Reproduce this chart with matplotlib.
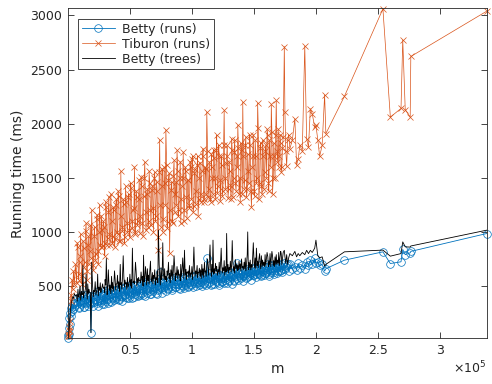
import matplotlib
matplotlib.use("Agg")
import matplotlib.pyplot as plt
import numpy as np

# m values (thousands of edges), shared by all three series
m_k = [0.2, 0.4, 0.6, 0.9, 1.2, 1.5, 1.9, 2.3, 2.8, 3.3, 3.9, 4.5, 5.2, 6.0,
       7.0, 8.1, 9.0, 9.8, 11.0, 12.1, 13.0, 14.2, 15.1, 16.0,
       17.0, 18.1, 18.6, 19.9, 21.0, 22.0, 23.1, 24.0, 25.0, 26.1,
       27.0, 28.0, 29.2, 30.0, 31.0, 32.1, 33.0, 34.0, 35.2, 36.0,
       37.0, 38.1, 39.0, 40.0, 41.0, 42.2, 43.0, 44.0, 45.1, 46.0,
       47.0, 48.0, 49.1, 50.0, 51.0, 52.0, 53.2, 54.0, 55.0, 56.1,
       57.0, 58.0, 59.0, 60.1, 61.0, 62.0, 63.0, 64.1, 65.0, 66.0,
       67.0, 68.1, 69.0, 70.0, 71.0, 72.0, 73.0, 74.0, 75.1, 76.0,
       77.0, 78.0, 79.0, 80.0, 81.1, 82.0, 83.0, 84.0, 85.0, 86.2,
       87.0, 88.0, 89.0, 90.1, 91.0, 92.0, 93.0, 94.0, 95.2, 96.0,
       97.0, 98.0, 99.1, 100.0, 101.0, 102.0, 103.0, 104.2, 105.0, 106.0,
       107.0, 108.0, 109.0, 110.1, 111.0, 112.0, 113.0, 114.0, 115.2, 116.0,
       117.0, 118.0, 119.0, 120.0, 121.1, 122.0, 123.0, 124.0, 125.0, 126.0,
       127.0, 128.0, 129.1, 130.0, 131.0, 132.0, 133.0, 134.0, 135.0, 136.2,
       137.0, 138.0, 139.0, 140.0, 141.0, 142.1, 143.0, 144.0, 145.0, 146.0,
       147.0, 148.0, 149.0, 150.1, 151.0, 152.0, 153.0, 154.0, 155.0, 156.0,
       157.0, 158.0, 159.0, 160.0, 161.2, 162.0, 163.0, 164.0, 165.0, 166.0,
       167.0, 168.0, 169.0, 170.0, 171.0, 172.0, 173.0, 174.5, 175.0, 176.4,
       178.0, 179.0, 181.0, 183.0, 184.4, 185.7, 187.0, 189.0, 191.0, 192.5,
       194.0, 195.5, 197.0, 199.0, 200.0, 201.5, 203.0, 205.0, 207.0, 208.0,
       223.0, 254.0, 260.0, 268.6, 270.0, 272.0, 276.0, 276.5, 337.6]

# Betty (runs), ms
betty_runs = [20, 45, 110, 60, 200, 150, 250, 220, 300, 265, 330, 290, 345, 315,
              330, 390, 310, 360, 415, 340, 305, 380, 350, 405,
              370, 330, 69, 400, 350, 430, 360, 320, 390, 440,
              350, 410, 330, 450, 380, 345, 420, 360, 465, 390,
              370, 440, 400, 475, 380, 450, 410, 365, 485, 420,
              400, 460, 385, 505, 430, 470, 400, 500, 450, 420,
              470, 420, 525, 440, 490, 410, 535, 460, 500, 450,
              430, 520, 470, 545, 440, 500, 460, 631, 480, 530,
              470, 540, 450, 510, 480, 555, 500, 460, 570, 520,
              490, 555, 520, 470, 585, 510, 545, 480, 595, 530,
              500, 570, 520, 590, 490, 550, 600, 530, 575, 510,
              540, 500, 580, 520, 600, 755, 530, 570, 510, 590,
              560, 520, 610, 540, 580, 510, 600, 550, 590, 530,
              570, 530, 610, 550, 620, 520, 590, 560, 630, 712,
              560, 620, 580, 640, 550, 600, 650, 570, 630, 590,
              620, 560, 660, 600, 640, 580, 670, 610, 650, 590,
              640, 600, 680, 620, 660, 590, 690, 630, 670, 610,
              650, 690, 620, 700, 640, 680, 630, 710, 660, 690,
              640, 700, 660, 680, 650, 710, 670, 690, 660, 720,
              690, 740, 700, 755, 710, 720, 690, 700, 638, 660,
              739, 816, 708, 724, 838, 790, 807, 820, 985]

# Tiburon (runs), ms
tiburon_runs = [35, 60, 95, 40, 120, 80, 180, 420, 360, 560, 470, 640, 520, 700,
                530, 860, 610, 780, 520, 920, 680, 1010, 640, 880,
                700, 1060, 760, 690, 960, 740, 1120, 820, 1000, 880,
                1150, 870, 1050, 900, 1230, 940, 1320, 880, 1100, 960,
                1200, 930, 1300, 980, 1330, 920, 1150, 1010, 1260, 950,
                1280, 1000, 1350, 950, 1410, 1040, 1220, 980, 1380, 1060,
                1300, 990, 1508, 1080, 1330, 1646, 1020, 1400, 1100, 1450,
                1060, 1420, 1000, 1554, 1150, 1380, 831, 1853, 1050, 1585,
                1120, 1450, 1945, 1040, 1480, 804, 1390, 1100, 1520, 1180,
                1460, 1754, 1150, 1500, 1080, 1420, 1738, 1200, 1560, 1130,
                1480, 1220, 1600, 1677, 1180, 1540, 1260, 1620, 1150, 1500,
                1280, 1560, 1769, 1300, 1580, 2108, 1320, 1650, 1280, 1600,
                1350, 1680, 1300, 1892, 1420, 1700, 1290, 1620, 1380, 2122,
                1400, 1700, 1310, 1650, 1430, 1862, 1320, 1740, 1450, 1700,
                1985, 1350, 1278, 1760, 2199, 1400, 1800, 1320, 1720, 1450,
                1800, 1232, 1700, 1380, 1850, 1450, 2190, 1300, 1780, 1420,
                1850, 1400, 1750, 1500, 1900, 1380, 1700, 2178, 1355, 1820,
                1500, 2215, 1650, 1601, 1900, 1550, 1780, 2713, 2107, 1607,
                1900, 1770, 1850, 2046, 1616, 1677, 1800, 1750, 2716, 1862,
                1785, 2139, 2093, 1969, 1985, 1850, 1699, 1800, 2266, 1908,
                2254, 3061, 2061, 2141, 2775, 2130, 2061, 2621, 3039]

# Betty (trees), ms
betty_trees = [30, 45, 70, 90, 130, 190, 260, 300, 340, 370, 400, 385, 430, 410,
               420, 470, 395, 500, 450, 690, 430, 480, 455, 520,
               470, 440, 69, 500, 460, 540, 450, 610, 490, 530,
               470, 520, 490, 560, 755, 480, 545, 510, 590, 530,
               500, 560, 520, 600, 540, 700, 530, 575, 590, 555,
               530, 580, 515, 610, 560, 850, 545, 590, 640, 570,
               580, 550, 630, 590, 785, 570, 615, 660, 600, 635,
               565, 625, 600, 650, 575, 640, 1016, 615, 670, 600,
               610, 660, 590, 640, 720, 615, 650, 690, 630, 660,
               620, 680, 650, 605, 700, 640, 665, 831, 655, 630,
               640, 690, 620, 680, 660, 710, 640, 690, 625, 665,
               650, 700, 660, 720, 640, 690, 675, 730, 650, 700,
               924, 660, 710, 680, 650, 720, 690, 705, 670, 735,
               680, 986, 700, 670, 730, 690, 715, 680, 745, 700,
               690, 730, 705, 750, 680, 720, 760, 700, 1000, 720,
               740, 700, 770, 720, 760, 850, 730, 750, 710, 780,
               740, 720, 790, 745, 770, 725, 800, 760, 780, 735,
               770, 790, 740, 810, 760, 800, 750, 830, 770, 790,
               760, 800, 780, 820, 770, 800, 780, 810, 790, 830,
               800, 830, 810, 850, 924, 780, 760, 770, 684, 700,
               816, 832, 776, 800, 908, 862, 860, 870, 1016]

# second batch of runs inside the dense part of the range
m2_k = [7.5, 8.6, 9.4, 10.3, 11.5, 12.6, 13.6, 14.7, 15.6, 16.5,
        17.5, 19.2, 20.5, 21.5, 22.6, 23.6, 24.5, 25.6, 26.6, 27.5,
        28.5, 29.7, 30.5, 31.6, 32.6, 33.5, 34.6, 35.7, 36.5, 37.6,
        38.6, 39.5, 40.5, 41.6, 42.7, 43.5, 44.6, 45.6, 46.5, 47.5,
        48.6, 49.6, 50.5, 51.5, 52.6, 53.7, 54.5, 55.6, 56.6, 57.5,
        58.5, 59.6, 60.6, 61.5, 62.6, 63.5, 64.6, 65.5, 66.6, 67.5,
        68.6, 69.5, 70.6, 71.5, 72.5, 73.6, 74.5, 75.6, 76.5, 77.6,
        78.5, 79.6, 80.5, 81.6, 82.5, 83.6, 84.5, 85.6, 86.6, 87.5,
        88.6, 89.5, 90.6, 91.5, 92.6, 93.5, 94.6, 95.6, 96.5, 97.5,
        98.6, 99.6, 100.5, 101.6, 102.5, 103.6, 104.6, 105.5, 106.6, 107.5,
        108.6, 109.5, 110.6, 111.5, 112.6, 113.5, 114.6, 115.7, 116.5, 117.6,
        118.5, 119.6, 120.5, 121.6, 122.5, 123.6, 124.5, 125.6, 126.5, 127.6,
        128.5, 129.6, 130.5, 131.6, 132.5, 133.6, 134.5, 135.6, 136.7, 137.5,
        138.6, 139.5, 140.6, 141.5, 142.6, 143.5, 144.6, 145.5, 146.6, 147.5,
        148.6, 149.5, 150.6, 151.5, 152.6, 153.5, 154.6, 155.5, 156.6, 157.5,
        158.6, 159.5, 160.6, 161.7, 162.5, 163.6, 164.5, 165.6, 166.5, 167.6,
        168.5, 169.6, 170.5, 171.6, 172.5, 173.6, 175.7, 177.2]

betty_runs2 = [350, 300, 400, 330, 370, 310, 415, 345, 390, 320,
               410, 350, 320, 380, 410, 340, 455, 370, 420, 330,
               370, 440, 360, 420, 380, 470, 350, 430, 395, 460,
               380, 460, 410, 370, 480, 400, 450, 420, 500, 390,
               470, 420, 490, 390, 460, 510, 430, 480, 410, 500,
               440, 510, 420, 520, 470, 440, 540, 480, 430, 515,
               450, 490, 540, 430, 510, 470, 550, 440, 520, 490,
               510, 540, 470, 520, 580, 480, 530, 560, 490, 545,
               520, 480, 560, 530, 500, 575, 510, 540, 490, 565,
               540, 510, 580, 530, 560, 500, 590, 540, 520, 570,
               560, 530, 600, 510, 570, 620, 540, 580, 520, 610,
               580, 550, 620, 530, 590, 570, 540, 610, 560, 600,
               600, 560, 630, 580, 600, 550, 640, 590, 570, 620,
               600, 570, 650, 590, 620, 660, 580, 640, 600, 650,
               630, 600, 680, 610, 650, 620, 690, 600, 640, 660,
               620, 680, 640, 700, 610, 670, 650, 690, 630, 680,
               670, 640, 690, 650, 700, 660, 680, 700]

tiburon_runs2 = [900, 560, 720, 980, 600, 850, 720, 1080, 560, 960,
                 820, 1200, 650, 1050, 800, 1160, 700, 1250, 860, 1020,
                 1100, 780, 1280, 880, 1180, 980, 1350, 900, 1230, 860,
                 1250, 1000, 1380, 920, 1560, 1050, 1300, 900, 1420, 1080,
                 1320, 1020, 1450, 1100, 1200, 1600, 1000, 1320, 1100, 1480,
                 1150, 1420, 960, 1500, 1180, 1350, 1050, 1560, 1200, 1390,
                 1220, 1500, 1100, 1460, 950, 1550, 1250, 1420, 1000, 1600,
                 1250, 1620, 1090, 1540, 1200, 1460, 1080, 1660, 1350, 1250,
                 1560, 1200, 1650, 1300, 1500, 1100, 1600, 1320, 1480, 1250,
                 1650, 1300, 1700, 1240, 1580, 1380, 1700, 1300, 1640, 1350,
                 1700, 1280, 1600, 1350, 1750, 1400, 1300, 1720, 1500, 1760,
                 1500, 1760, 1360, 1800, 1480, 1700, 1330, 1800, 1500, 1640,
                 1800, 1400, 1560, 1300, 1760, 1500, 1850, 1380, 1600, 1780,
                 1500, 1820, 1350, 1700, 1480, 1880, 1400, 1560, 1900, 1380,
                 1600, 1900, 1330, 1700, 1500, 1960, 1450, 1820, 1350, 1700,
                 1550, 1800, 1950, 1450, 1850, 1600, 1920, 1500, 1700, 1900,
                 1750, 1950, 1700, 1820, 1600, 1880, 1750, 1850]

betty_trees2 = [360, 400, 450, 370, 420, 390, 440, 610, 380, 430,
                440, 720, 400, 450, 420, 480, 410, 460, 440, 490,
                480, 440, 510, 420, 650, 460, 430, 480, 450, 640,
                460, 520, 480, 450, 510, 470, 780, 490, 520, 470,
                490, 540, 500, 480, 530, 520, 720, 500, 530, 550,
                530, 550, 500, 540, 680, 510, 550, 520, 730, 540,
                520, 570, 510, 560, 530, 700, 510, 560, 900, 560,
                560, 540, 600, 570, 530, 590, 560, 780, 550, 600,
                570, 600, 550, 590, 760, 570, 600, 560, 620, 580,
                580, 610, 560, 860, 590, 610, 580, 620, 590, 570,
                600, 580, 630, 590, 750, 600, 880, 590, 630, 610,
                620, 640, 600, 630, 610, 850, 620, 640, 600, 630,
                640, 620, 650, 630, 920, 640, 620, 660, 640, 650,
                660, 640, 670, 650, 660, 640, 790, 650, 670, 650,
                670, 900, 670, 660, 690, 670, 800, 660, 680, 690,
                680, 690, 810, 680, 700, 680, 820, 690, 680, 700,
                700, 710, 690, 820, 700, 810, 710, 700]

# merge both batches in order of m
m_all = np.concatenate([m_k, m2_k]) * 1e3
order = np.argsort(m_all, kind='stable')
m = m_all[order]
b_runs = np.concatenate([betty_runs, betty_runs2])[order]
t_runs = np.concatenate([tiburon_runs, tiburon_runs2])[order]
b_trees = np.concatenate([betty_trees, betty_trees2])[order]

blue = (0.0, 0.447, 0.741)
orange = (0.850, 0.325, 0.098)
dark = (0.15, 0.15, 0.15)

fig = plt.figure(figsize=(4.92, 3.84), dpi=100)
ax = fig.add_axes([0.138, 0.119, 0.851, 0.859])

ax.plot(m, b_runs, '-o', color=blue, lw=0.6, ms=5.5, mew=0.5,
        mfc='none', label='Betty (runs)', clip_on=False)
ax.plot(m, t_runs, '-x', color=orange, lw=0.5, ms=4.5, mew=0.5,
        label='Tiburon (runs)', clip_on=False)
ax.plot(m, b_trees, '-', color='black', lw=0.6, label='Betty (trees)')

ax.set_xlim(0, 3.376e5)
ax.set_ylim(17, 3065)
ax.set_xticks([0.5e5, 1e5, 1.5e5, 2e5, 2.5e5, 3e5])
ax.set_xticklabels(['0.5', '1', '1.5', '2', '2.5', '3'])
ax.set_yticks([500, 1000, 1500, 2000, 2500, 3000])

ax.tick_params(direction='in', top=True, right=True, length=4, width=0.6,
               labelsize=9, colors=dark, pad=4)
for sp in ax.spines.values():
    sp.set_color(dark)
    sp.set_linewidth(0.6)

ax.set_xlabel('m', fontsize=10, color=dark, labelpad=4)
ax.set_ylabel('Running time (ms)', fontsize=10, color=dark, labelpad=4)
ax.text(1.0, -0.106, r'$\times10^5$', transform=ax.transAxes, ha='right',
        va='baseline', fontsize=9, color=dark)

leg = ax.legend(loc='upper left', bbox_to_anchor=(0.025, 0.968), fontsize=9,
                fancybox=False, framealpha=1, edgecolor=dark, handlelength=2.6,
                borderpad=0.3, labelspacing=0.15, handletextpad=0.6,
                borderaxespad=0)
leg.get_frame().set_linewidth(0.6)
for t in leg.get_texts():
    t.set_color(dark)

fig.savefig('out.png', dpi=100)
